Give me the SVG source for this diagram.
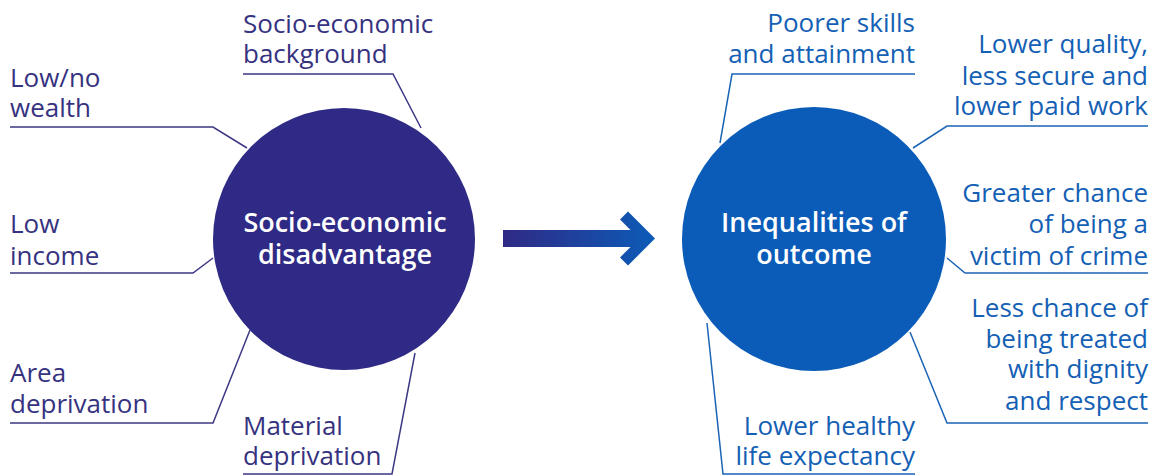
<svg xmlns="http://www.w3.org/2000/svg" width="1157" height="475" viewBox="0 0 1157 475">
<defs>
<style>
.lbl{font-family:"Open Sans","Liberation Sans",sans-serif;font-size:26px}
.l{fill:#36327f}
.r{fill:#1460b4;text-anchor:end}
.c{font-family:"Open Sans","Liberation Sans",sans-serif;font-size:27px;font-weight:600;fill:#ffffff;text-anchor:middle}
.lc{fill:none;stroke:#3c3884;stroke-width:1.5}
.rc{fill:none;stroke:#1a64b6;stroke-width:1.5}
</style>
<linearGradient id="ag" x1="503" y1="0" x2="657" y2="0" gradientUnits="userSpaceOnUse">
<stop offset="0" stop-color="#2f2a85"/>
<stop offset="1" stop-color="#0b5cb8"/>
</linearGradient>
</defs>
<rect width="1157" height="475" fill="#ffffff"/>
<g id="connectors">
<polyline class="lc" points="10,127 213,127 247,148"/>
<polyline class="lc" points="243,74 393,74 421,128"/>
<polyline class="lc" points="10,273 193,273 213,258"/>
<polyline class="lc" points="10,423 213,423 250,330"/>
<polyline class="lc" points="243,474 392,474 415,353"/>
<polyline class="rc" points="915,74 732,74 720,143"/>
<polyline class="rc" points="1148,126 947,126 913,148"/>
<polyline class="rc" points="1148,273 965,273 947,258"/>
<polyline class="rc" points="1148,423 947,423 910,332"/>
<polyline class="rc" points="915,474 723,474 707,323"/>
<g id="main-arrow">
<rect x="503" y="230" width="137" height="17" fill="url(#ag)"/>
<polygon points="628,211.5 655,238.5 628,265.5 620,257.5 639,238.5 620,219.5" fill="url(#ag)"/>
</g>
</g>
<g id="node-disadvantage">
<circle cx="344" cy="239" r="131" fill="#2f2a85"/>
<text class="c" x="345" y="232">Socio-economic</text>
<text class="c" x="345" y="264">disadvantage</text>
</g>
<g id="node-outcome">
<circle cx="814" cy="239" r="132" fill="#0b5cb8"/>
<text class="c" x="814" y="232">Inequalities of</text>
<text class="c" x="814" y="264">outcome</text>
</g>
<g id="label-wealth"><text class="lbl l" x="10" y="87">Low/no</text><text class="lbl l" x="10" y="117">wealth</text></g>
<g id="label-background"><text class="lbl l" x="243" y="33">Socio-economic</text><text class="lbl l" x="243" y="63">background</text></g>
<g id="label-income"><text class="lbl l" x="10" y="233">Low</text><text class="lbl l" x="10" y="265">income</text></g>
<g id="label-area"><text class="lbl l" x="10" y="382">Area</text><text class="lbl l" x="10" y="413">deprivation</text></g>
<g id="label-material"><text class="lbl l" x="243" y="435">Material</text><text class="lbl l" x="243" y="465">deprivation</text></g>
<g id="label-skills"><text class="lbl r" x="915" y="32">Poorer skills</text><text class="lbl r" x="915" y="63">and attainment</text></g>
<g id="label-work"><text class="lbl r" x="1148" y="53">Lower quality,</text><text class="lbl r" x="1148" y="85">less secure and</text><text class="lbl r" x="1148" y="115">lower paid work</text></g>
<g id="label-crime"><text class="lbl r" x="1148" y="202">Greater chance</text><text class="lbl r" x="1148" y="233">of being a</text><text class="lbl r" x="1148" y="265">victim of crime</text></g>
<g id="label-dignity"><text class="lbl r" x="1148" y="317">Less chance of</text><text class="lbl r" x="1148" y="348">being treated</text><text class="lbl r" x="1148" y="378">with dignity</text><text class="lbl r" x="1148" y="410">and respect</text></g>
<g id="label-health"><text class="lbl r" x="915" y="435">Lower healthy</text><text class="lbl r" x="915" y="465">life expectancy</text></g>
</svg>
